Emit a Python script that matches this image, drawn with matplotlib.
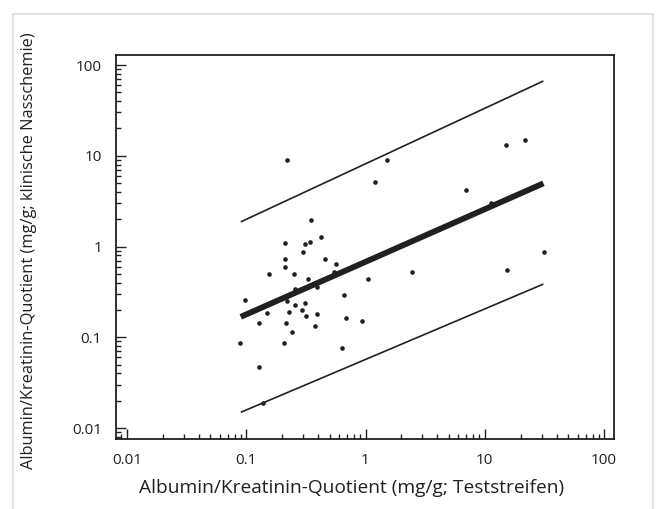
import matplotlib
matplotlib.use('Agg')
import matplotlib.pyplot as plt
from matplotlib.patches import Rectangle
from matplotlib.ticker import FixedLocator, LogLocator, NullFormatter

plt.rcParams['font.family'] = ['Open Sans', 'DejaVu Sans']

# Messwerte (mg/g): Teststreifen (x) gegen klinische Nasschemie (y)
strip_acr = [0.22, 1.5, 1.2, 0.35, 0.21, 0.31, 0.34, 0.42, 0.30, 0.21, 0.21,
             0.46, 0.57, 0.156, 0.25, 0.54, 0.33, 1.04, 2.47, 0.255, 0.39, 0.66,
             0.098, 0.22, 0.255, 0.31, 0.148, 0.23, 0.295, 0.32, 0.395, 0.128,
             0.217, 0.38, 0.68, 0.94, 0.24, 0.089, 0.208, 0.64, 0.128, 0.137,
             15.1, 21.8, 6.9, 11.2, 15.3, 31.6]
lab_acr = [9.0, 9.0, 5.1, 1.95, 1.1, 1.06, 1.12, 1.26, 0.86, 0.72, 0.60,
           0.72, 0.65, 0.50, 0.50, 0.53, 0.44, 0.44, 0.52, 0.34, 0.355, 0.29,
           0.26, 0.25, 0.225, 0.24, 0.184, 0.19, 0.20, 0.173, 0.18, 0.145,
           0.145, 0.134, 0.164, 0.152, 0.115, 0.087, 0.087, 0.076, 0.047, 0.019,
           13.1, 14.8, 4.2, 3.0, 0.55, 0.86]

# Regressionsgerade und Grenzen (Endpunkte)
fit_x = [0.09, 31.0]
fit_y = [0.168, 4.97]
upper_y = [1.87, 66.7]
lower_y = [0.0149, 0.386]

ticks = [0.01, 0.1, 1, 10, 100]
tick_labels = ['0.01', '0.1', '1', '10', '100']

ink = '#231f20'

fig = plt.figure(figsize=(6.56, 5.09), dpi=100)
fig.patches.append(Rectangle((12.5 / 656, -0.1), 640.5 / 656, 1.1 - 14.5 / 509,
                             transform=fig.transFigure, fill=False,
                             edgecolor='#d9d9d9', linewidth=1.1))
ax = fig.add_axes([116 / 656, 1 - 439 / 509, 498 / 656, 384 / 509])
ax.set_xscale('log')
ax.set_yscale('log')
ax.set_xlim(0.0081, 121)
ax.set_ylim(0.00757, 129)

ax.plot(fit_x, upper_y, color=ink, linewidth=1.2, solid_capstyle='butt')
ax.plot(fit_x, lower_y, color=ink, linewidth=1.2, solid_capstyle='butt')
ax.plot(fit_x, fit_y, color=ink, linewidth=4.2, solid_capstyle='butt')
ax.scatter(strip_acr, lab_acr, s=11, color=ink, linewidths=0, zorder=3)

for axis in (ax.xaxis, ax.yaxis):
    axis.set_major_locator(FixedLocator(ticks))
    axis.set_minor_locator(LogLocator(base=10, subs=range(2, 10), numticks=20))
    axis.set_minor_formatter(NullFormatter())
ax.set_xticklabels(tick_labels)
ax.set_yticklabels(tick_labels)

ax.tick_params(which='both', direction='in', top=False, right=False,
               color=ink, labelcolor=ink, labelsize=11)
ax.tick_params(which='major', length=7.5, width=1.0, pad=10)
ax.tick_params(which='minor', length=3.8, width=1.0)
for sp in ax.spines.values():
    sp.set_linewidth(1.3)
    sp.set_color(ink)

ax.set_xlabel('Albumin/Kreatinin-Quotient (mg/g; Teststreifen)', fontsize=13.8, color=ink)
ax.set_ylabel('Albumin/Kreatinin-Quotient (mg/g; klinische Nasschemie)', fontsize=11.8, color=ink)
ax.xaxis.set_label_coords(0.473, -0.105)
ax.yaxis.set_label_coords(-0.158, 0.49)

fig.savefig('out.png', dpi=100)
